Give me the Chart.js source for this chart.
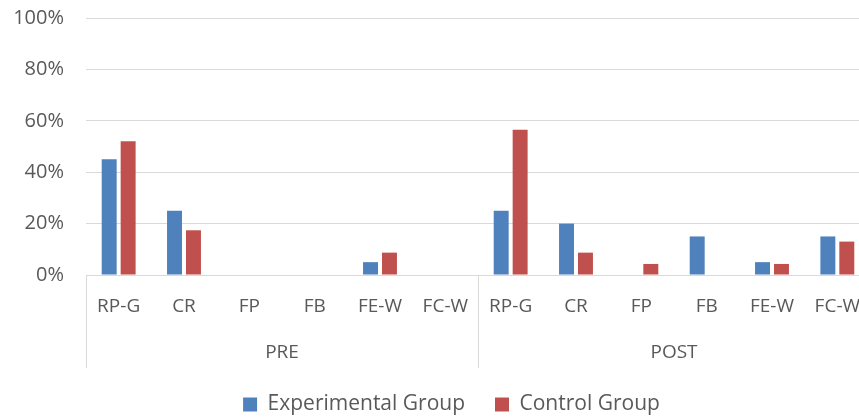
<!DOCTYPE html>
<html>
<head>
<meta charset="utf-8">
<script src="https://cdn.jsdelivr.net/npm/chart.js@4.4.1/dist/chart.umd.min.js"></script>
<style>
  html, body { margin: 0; padding: 0; background: #fff; overflow: hidden; }
  body { width: 859px; height: 418px; }
  #wrap { width: 903px; height: 425px; }
</style>
</head>
<body>
<div id="wrap"><canvas id="myChart" width="903" height="425"></canvas></div>
<script>
const groups = ["PRE", "POST"];
const codes = ["RP-G", "CR", "FP", "FB", "FE-W", "FC-W"];
const experimentalPre = [45, 25, 0, 0, 5, 0];
const experimentalPost = [25, 20, 0, 15, 5, 15];
const controlPre = [52, 17.4, 0, 0, 8.7, 0];
const controlPost = [56.5, 8.7, 4.3, 0, 4.3, 13];
const yTicks = [0, 20, 40, 60, 80, 100];

const labels = codes.concat(codes);
const textColor = "#595959";
const gridColor = "#d9d9d9";
const family = "'Open Sans', sans-serif";

// vertical separators under the axis: left edge, between groups, right edge
const groupLines = {
  id: "groupLines",
  afterDraw(chart) {
    const x = chart.scales.x;
    const x2 = chart.scales.x2;
    const ctx = chart.ctx;
    const per = codes.length;
    const step = x.getPixelForValue(1) - x.getPixelForValue(0);
    ctx.save();
    ctx.strokeStyle = gridColor;
    ctx.lineWidth = 1;
    for (let i = 0; i <= groups.length; i++) {
      const px = Math.round(x.getPixelForValue(i * per) - step / 2) + 0.5;
      ctx.beginPath();
      ctx.moveTo(px, chart.chartArea.bottom);
      ctx.lineTo(px, x2.bottom + 4);
      ctx.stroke();
    }
    ctx.restore();
  }
};

const ctx = document.getElementById("myChart").getContext("2d");
const myChart = new Chart(ctx, {
  type: "bar",
  data: {
    labels: labels,
    datasets: [
      {
        label: "Experimental Group",
        data: experimentalPre.concat(experimentalPost),
        backgroundColor: "#4F81BD",
        categoryPercentage: 0.58,
        barPercentage: 0.79,
      },
      {
        label: "Control Group",
        data: controlPre.concat(controlPost),
        backgroundColor: "#C0504D",
        categoryPercentage: 0.58,
        barPercentage: 0.79,
      },
    ],
  },
  options: {
    responsive: false,
    animation: false,
    layout: { padding: { top: 18, right: 0, bottom: 0, left: 0 } },
    plugins: {
      tooltip: { enabled: false },
      legend: {
        position: "bottom",
        labels: {
          color: textColor,
          font: { family: family, size: 21 },
          boxWidth: 14,
          boxHeight: 14,
          padding: 30,
        },
      },
    },
    scales: {
      y: {
        min: 0,
        max: 100,
        afterBuildTicks(scale) {
          scale.ticks = yTicks.map((v) => ({ value: v }));
        },
        afterFit(scale) {
          scale.width = 86;
          scale.paddingTop = 0;
          scale.paddingBottom = 0;
        },
        border: { display: false },
        grid: { color: gridColor, drawTicks: false },
        ticks: {
          color: textColor,
          font: { family: family, size: 20 },
          padding: 22,
          callback: (v) => v + "%",
        },
      },
      // empty right-hand space, so the legend stays centred on the whole chart
      yRight: {
        position: "right",
        min: 0,
        max: 100,
        afterFit(scale) {
          scale.width = 33;
          scale.paddingTop = 0;
          scale.paddingBottom = 0;
        },
        border: { display: false },
        grid: { display: false, drawTicks: false },
        ticks: { display: false },
      },
      x: {
        afterFit(scale) { scale.height = 43; },
        border: { display: false },
        grid: { display: false, drawTicks: false },
        ticks: { color: textColor, font: { family: family, size: 19 }, padding: 20, maxRotation: 0, autoSkip: false },
      },
      x2: {
        type: "category",
        labels: groups,
        position: "bottom",
        offset: true,
        afterFit(scale) { scale.height = 46; },
        border: { display: false },
        grid: { display: false, drawTicks: false },
        ticks: { color: textColor, font: { family: family, size: 19 }, padding: 23 },
      },
    },
  },
  plugins: [groupLines],
});
</script>
</body>
</html>
